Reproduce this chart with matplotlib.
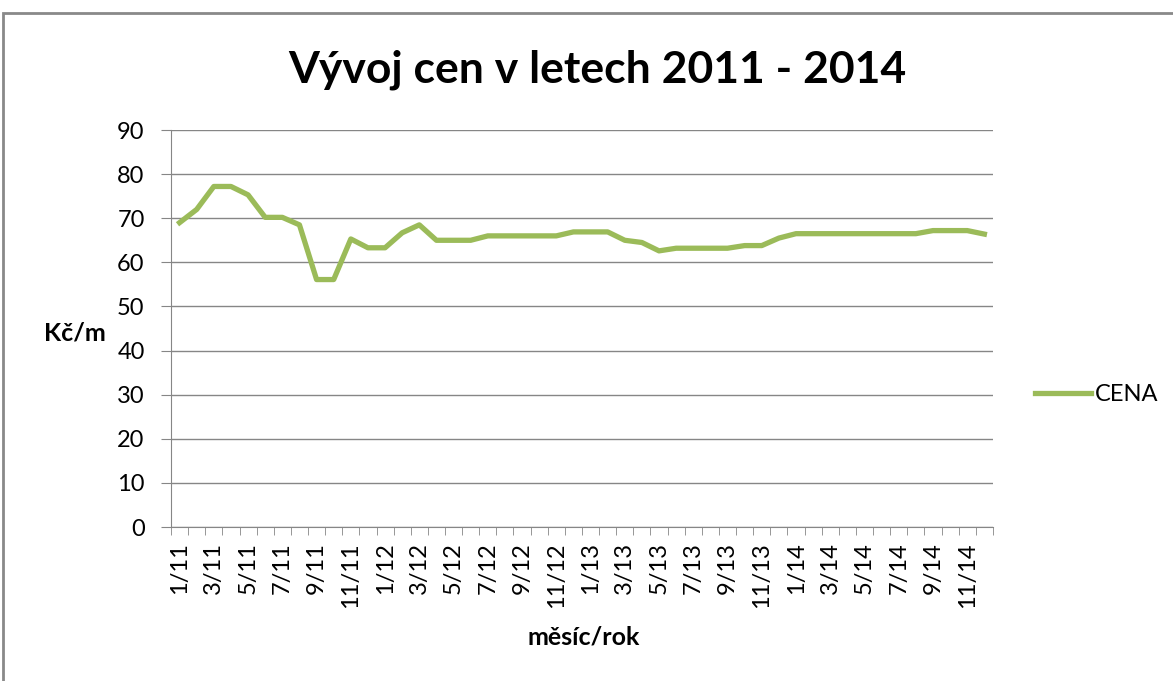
import matplotlib
matplotlib.use('Agg')
import matplotlib.pyplot as plt
import numpy as np
from matplotlib.patches import Rectangle

plt.rcParams['font.family'] = ['Lato', 'DejaVu Sans']

# kategorie (měsíc/rok)
years = ['11', '12', '13', '14']
months = [f'{m}/{y}' for y in years for m in range(1, 13)]

# cena Kč/m
prices = [69.0, 72.0, 77.2, 77.2, 75.3, 70.2, 70.2, 68.5, 56.1, 56.1, 65.3, 63.3,
          63.3, 66.7, 68.5, 65.0, 65.0, 65.0, 66.0, 66.0, 66.0, 66.0, 66.0, 66.9,
          66.9, 66.9, 65.0, 64.5, 62.6, 63.2, 63.2, 63.2, 63.2, 63.8, 63.8, 65.5,
          66.5, 66.5, 66.5, 66.5, 66.5, 66.5, 66.5, 66.5, 67.2, 67.2, 67.2, 66.4]

grid_color = '#868686'

fig = plt.figure(figsize=(11.73, 6.81), dpi=100)
ax = fig.add_axes([0.1458, 0.2261, 0.7007, 0.5830])

x = np.arange(len(months))
ax.plot(x, prices, color='#9BBB59', linewidth=3.8, label='CENA', solid_joinstyle='round')

ax.set_xlim(-0.5, len(months) - 0.5)
ax.set_ylim(0, 90)
ax.set_yticks(range(0, 91, 10))
ax.yaxis.grid(True, color=grid_color, linewidth=1)
ax.set_axisbelow(True)

ax.set_xticks(x[::2], months[::2], rotation=90)
ax.set_xticks(np.arange(-0.5, len(months), 1), minor=True)
ax.tick_params(axis='x', which='major', length=0, labelsize=17, pad=11)
ax.tick_params(axis='x', which='minor', length=6, color=grid_color)
ax.tick_params(axis='y', length=7, color=grid_color, labelsize=17, pad=12)

for s in ['top', 'right']:
    ax.spines[s].set_visible(False)
for s in ['left', 'bottom']:
    ax.spines[s].set_color(grid_color)

fig.text(0.509, 0.897, 'Vývoj cen v letech 2011 - 2014', ha='center', va='center',
         fontsize=32, fontweight='bold')
fig.text(0.064, 0.511, 'Kč/m', ha='center', va='center', fontsize=18, fontweight='bold')
fig.text(0.4974, 0.064, 'měsíc/rok', ha='center', va='center', fontsize=18, fontweight='bold')

fig.legend(loc='center left', bbox_to_anchor=(0.882, 0.42), frameon=False,
           fontsize=17, handlelength=2.4, handletextpad=0.17, borderpad=0,
           borderaxespad=0)

# rámeček grafu
fig.patches.append(Rectangle((3 / 1173, -0.1), 1.2, 1.1 - 13 / 681,
                             transform=fig.transFigure, fill=False,
                             edgecolor='#898989', linewidth=2))

fig.savefig('out.png', dpi=100)
